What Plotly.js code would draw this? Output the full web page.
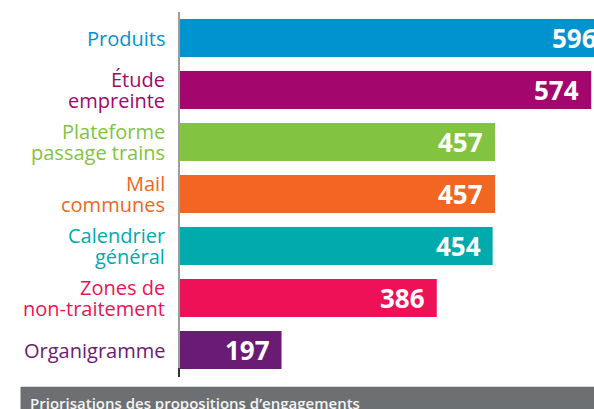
<!DOCTYPE html>
<html>
<head>
<meta charset="utf-8">
<script src="https://cdn.plot.ly/plotly-3.0.1.min.js"></script>
<style>
html, body { margin: 0; padding: 0; overflow: hidden; background: #ffffff; }
#chart { width: 640px; height: 409px; }
</style>
</head>
<body>
<div id="chart"></div>
<script>
// ---- data ----
var categories = ['Produits', 'Étude<br>empreinte', 'Plateforme<br>passage trains', 'Mail<br>communes', 'Calendrier<br>général', 'Zones de<br>non-traitement', 'Organigramme'];
var values = [596, 574, 457, 457, 454, 386, 197];
var colors = ['#0093d0', '#a3066d', '#82c341', '#f26522', '#00aaad', '#ee1157', '#6a1b74'];
var footerText = 'Priorisations des propositions d’engagements';

var W = 640, H = 409, ML = 180, MT = 12, MB = 33, MR = 0;
var plotW = W - ML - MR, plotH = H - MT - MB;
function px2paperX(px) { return (px - ML) / plotW; }
function px2paperY(py) { return (H - MB - py) / plotH; }

var trace = {
  type: 'bar',
  orientation: 'h',
  y: categories,
  x: values,
  marker: { color: colors, line: { width: 0 } },
  hoverinfo: 'none'
};

var annotations = [];
// category labels (one annotation per line so the leading can match)
var lineGap = 20.5;
categories.forEach(function (c, i) {
  var lines = c.split('<br>');
  var n = lines.length;
  lines.forEach(function (ln, j) {
    annotations.push({
      xref: 'paper', yref: 'y', x: 0, y: c,
      xanchor: 'right', yanchor: 'middle',
      xshift: -13, yshift: ((n - 1) / 2 - j) * lineGap,
      text: ln, showarrow: false,
      font: { family: 'Open Sans', size: 20, color: colors[i] }
    });
  });
  // value labels inside bars
  annotations.push({
    xref: 'x', yref: 'y', x: values[i], y: c,
    xanchor: 'right', yanchor: 'middle', xshift: -10,
    text: String(values[i]), showarrow: false,
    font: { family: 'Open Sans', size: 26, color: '#ffffff', weight: 700 }
  });
});
// footer banner text
annotations.push({
  xref: 'paper', yref: 'paper', x: px2paperX(28), y: px2paperY(403),
  xanchor: 'left', yanchor: 'middle', showarrow: false,
  text: footerText,
  font: { family: 'Open Sans', size: 15, color: '#f4f4f4', weight: 600 }
});

var shapes = [
  { type: 'rect', xref: 'paper', yref: 'paper',
    x0: px2paperX(20.5), x1: px2paperX(700), y0: px2paperY(386.7), y1: px2paperY(430),
    fillcolor: '#6d7073', line: { width: 0 }, layer: 'above' },
  { type: 'line', xref: 'paper', yref: 'paper',
    x0: px2paperX(179), x1: px2paperX(179), y0: px2paperY(368), y1: px2paperY(377),
    line: { color: '#333333', width: 2 } }
];

var layout = {
  width: W, height: H,
  margin: { l: ML, r: MR, t: MT, b: MB, pad: 0 },
  paper_bgcolor: '#ffffff', plot_bgcolor: '#ffffff',
  showlegend: false,
  bargap: 0.27,
  xaxis: { range: [73.4, 633.4], showgrid: false, zeroline: false, showticklabels: false, showline: false, ticks: '', fixedrange: true },
  yaxis: { type: 'category', autorange: 'reversed', showgrid: false, zeroline: false, showticklabels: false,
           showline: true, linecolor: '#9d9d9d', linewidth: 2, ticks: '', fixedrange: true },
  annotations: annotations,
  shapes: shapes
};

Plotly.newPlot('chart', [trace], layout, { displayModeBar: false, staticPlot: true });
</script>
</body>
</html>
